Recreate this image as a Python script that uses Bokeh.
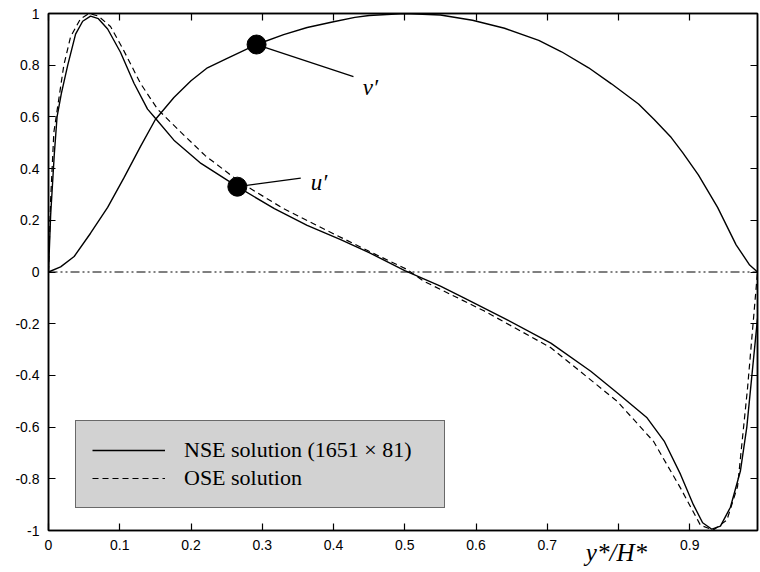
from bokeh.plotting import figure
from bokeh.models import (LinearAxis, FixedTicker, CustomJSTickFormatter, Legend,
                          LegendItem, Label, Range1d, Span)
from bokeh.embed import file_html
from bokeh.resources import INLINE

# ---- data ----
x_u_nse = [0.000, 0.003, 0.008, 0.012, 0.018, 0.027, 0.038, 0.048, 0.059, 0.070,
           0.083, 0.101, 0.120, 0.139, 0.150, 0.176, 0.214, 0.265, 0.317, 0.363,
           0.410, 0.450, 0.500, 0.550, 0.583, 0.639, 0.705, 0.761, 0.798, 0.840,
           0.864, 0.887, 0.905, 0.918, 0.931, 0.943, 0.957, 0.971, 0.980, 0.995]
u_nse = [0.00, 0.22, 0.45, 0.60, 0.69, 0.80, 0.92, 0.97, 0.99, 0.98,
         0.94, 0.85, 0.73, 0.63, 0.595, 0.51, 0.42, 0.33, 0.245, 0.18,
         0.125, 0.075, 0.005, -0.055, -0.10, -0.178, -0.275, -0.384, -0.467, -0.564,
         -0.654, -0.783, -0.90, -0.97, -0.995, -0.983, -0.91, -0.77, -0.60, -0.18]

x_u_ose = [0.000, 0.003, 0.0075, 0.0145, 0.0215, 0.031, 0.045, 0.057, 0.070, 0.087,
           0.105, 0.129, 0.153, 0.186, 0.220, 0.270, 0.330, 0.391, 0.450, 0.503,
           0.527, 0.611, 0.705, 0.798, 0.849, 0.887, 0.915, 0.933, 0.952, 0.967,
           0.981, 0.995]
u_ose = [0.00, 0.28, 0.54, 0.67, 0.80, 0.91, 0.98, 1.00, 0.99, 0.95,
         0.86, 0.73, 0.63, 0.54, 0.45, 0.345, 0.245, 0.16, 0.08, 0.01,
         -0.036, -0.15, -0.293, -0.50, -0.655, -0.836, -0.98, -0.998, -0.96, -0.83,
         -0.45, 0.00]

x_v = [0.000, 0.017, 0.036, 0.059, 0.083, 0.106, 0.129, 0.150, 0.176, 0.200,
       0.223, 0.250, 0.292, 0.330, 0.363, 0.400, 0.430, 0.450, 0.500, 0.550,
       0.595, 0.640, 0.688, 0.720, 0.758, 0.790, 0.828, 0.850, 0.874, 0.890,
       0.912, 0.939, 0.965, 0.984, 0.995]
v_nse = [0.00, 0.02, 0.06, 0.15, 0.25, 0.365, 0.485, 0.59, 0.675, 0.74,
         0.79, 0.825, 0.88, 0.918, 0.946, 0.968, 0.985, 0.992, 1.00, 0.994,
         0.974, 0.943, 0.896, 0.852, 0.79, 0.728, 0.65, 0.59, 0.52, 0.462,
         0.376, 0.25, 0.105, 0.027, 0.00]

x_ticks = [0.0, 0.1, 0.2, 0.3, 0.4, 0.5, 0.6, 0.7, 0.8, 0.9]
y_ticks = [-1.0, -0.8, -0.6, -0.4, -0.2, 0.0, 0.2, 0.4, 0.6, 0.8, 1.0]

legend_labels = ["NSE solution (1651 \u00d7 81)", "OSE solution"]
x_title = "y*/H*"
x_title_pos = 0.797

# markers on the curves (indices into the arrays above)
v_mark = x_v.index(0.292)
u_mark = x_u_nse.index(0.265)
v_lead_end = (0.428, 0.756)
u_lead_end = (0.354, 0.363)

SERIF = "Liberation Serif"
SANS = "Liberation Sans"

p = figure(width=760, height=572, x_range=Range1d(0, 0.995), y_range=Range1d(-1, 1),
           output_backend="svg", toolbar_location=None,
           min_border_left=48, min_border_right=3, min_border_top=13, min_border_bottom=42)
p.grid.visible = False
p.outline_line_color = "black"
p.outline_line_width = 1.5
p.background_fill_color = "white"
p.border_fill_color = "white"

fmt_x = CustomJSTickFormatter(code="""
if (Math.abs(tick - 0.8) < 1e-9) { return ''; }
return (Math.round(tick * 10) / 10).toString();
""")
fmt_y = CustomJSTickFormatter(code="return (Math.round(tick * 10) / 10).toString();")


def style_axis(ax, show_labels=True):
    ax.axis_line_width = 1.5
    ax.axis_line_color = "black"
    ax.major_tick_in = 7
    ax.major_tick_out = 0
    ax.minor_tick_in = 0
    ax.minor_tick_out = 0
    ax.major_tick_line_width = 1.2
    ax.major_label_text_font = SANS
    ax.major_label_text_font_size = "14px" if show_labels else "0px"
    ax.major_label_text_color = "black"
    ax.major_label_standoff = 9 if show_labels else 0


p.xaxis.ticker = FixedTicker(ticks=x_ticks)
p.xaxis.formatter = fmt_x
p.yaxis.ticker = FixedTicker(ticks=y_ticks)
p.yaxis.formatter = fmt_y
for ax in p.xaxis + p.yaxis:
    style_axis(ax)

top_ax = LinearAxis(ticker=FixedTicker(ticks=x_ticks), formatter=fmt_x)
right_ax = LinearAxis(ticker=FixedTicker(ticks=y_ticks), formatter=fmt_y)
style_axis(top_ax, False)
style_axis(right_ax, False)
p.add_layout(top_ax, "above")
p.add_layout(right_ax, "right")

# axis title drawn as the single label of a second, line-less bottom axis
title_ax = LinearAxis(ticker=FixedTicker(ticks=[x_title_pos]),
                      formatter=CustomJSTickFormatter(args=dict(t=x_title), code="return t;"))
title_ax.axis_line_color = None
title_ax.major_tick_line_color = None
title_ax.minor_tick_line_color = None
title_ax.major_tick_in = 0
title_ax.major_tick_out = 0
title_ax.major_label_text_font = SERIF
title_ax.major_label_text_font_style = "italic"
title_ax.major_label_text_font_size = "25px"
title_ax.major_label_text_color = "black"
title_ax.major_label_standoff = -14
p.add_layout(title_ax, "below")

# zero line (dash-dot-dot)
p.add_layout(Span(location=0, dimension="width", line_color="black", line_width=1,
                  line_dash="9 3 2 3 2 3"))

r_v = p.line(x_v, v_nse, line_color="black", line_width=1.4)
r_ose = p.line(x_u_ose, u_ose, line_color="black", line_width=1.2, line_dash="6 4")
r_nse = p.line(x_u_nse, u_nse, line_color="black", line_width=1.4)

# leader lines and dots
p.segment(x0=[x_v[v_mark], x_u_nse[u_mark]], y0=[v_nse[v_mark], u_nse[u_mark]],
          x1=[v_lead_end[0], u_lead_end[0]], y1=[v_lead_end[1], u_lead_end[1]],
          line_color="black", line_width=1.3)
p.scatter(x=[x_v[v_mark], x_u_nse[u_mark]], y=[v_nse[v_mark], u_nse[u_mark]],
          size=19, fill_color="black", line_color="black")

p.add_layout(Label(x=0.441, y=0.713, text="v\u2032", text_font=SERIF, text_font_style="italic",
                   text_font_size="23px", text_baseline="alphabetic", text_color="black"))
p.add_layout(Label(x=0.368, y=0.345, text="u\u2032", text_font=SERIF, text_font_style="italic",
                   text_font_size="23px", text_baseline="alphabetic", text_color="black"))

legend = Legend(items=[LegendItem(label=legend_labels[0], renderers=[r_nse]),
                       LegendItem(label=legend_labels[1], renderers=[r_ose])],
                location=(27, 22), background_fill_color="#d2d2d2", background_fill_alpha=1,
                border_line_color="black", border_line_width=1.5,
                label_text_font=SERIF, label_text_font_size="22px", label_text_color="black",
                glyph_width=73, glyph_height=22, label_standoff=19, label_width=244,
                padding=16, spacing=2, margin=0)
p.add_layout(legend)

open("out.html", "w").write(file_html(p, INLINE))
